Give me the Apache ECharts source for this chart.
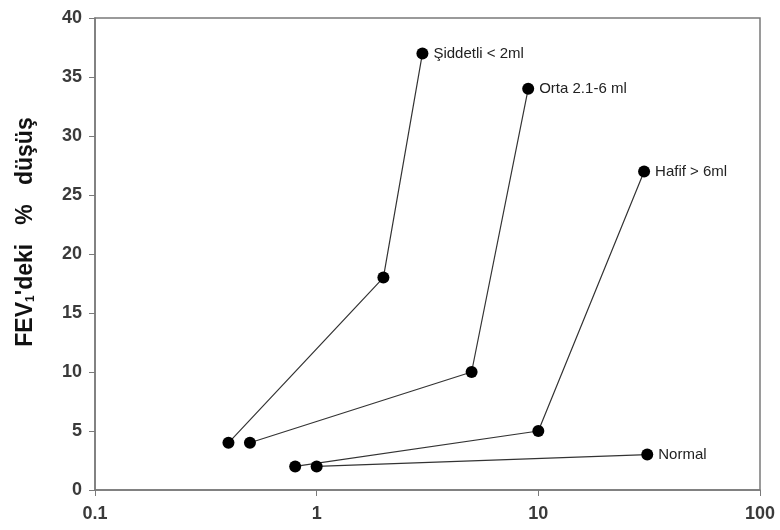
<!DOCTYPE html>
<html>
<head>
<meta charset="utf-8">
<script src="https://cdn.jsdelivr.net/npm/echarts@6/dist/echarts.min.js"></script>
<style>
  html, body { margin: 0; padding: 0; background: #fff; }
  #chart { width: 780px; height: 530px; }
</style>
</head>
<body>
<div id="chart"></div>
<script>
// reading by reading: [dose ml (log), % fall in FEV1]
const seriesNames = ['Şiddetli < 2ml', 'Orta 2.1-6 ml', 'Hafif > 6ml', 'Normal']
const siddetliPts = [[0.4, 4], [2, 18], [3, 37]]
const ortaPts = [[0.5, 4], [5, 10], [9, 34]]
const hafifPts = [[0.8, 2], [10, 5], [30, 27]]
const normalPts = [[1, 2], [31, 3]]
const yTicks = [0, 5, 10, 15, 20, 25, 30, 35, 40]
const xTicks = [0.1, 1, 10, 100]

const chart = echarts.init(document.getElementById('chart'))

const axisColor = '#7a7a7a'
const labelColor = '#3a3a3a'
const font = 'Liberation Sans, Arial, sans-serif'

function makeSeries(name, pts) {
  return {
    name: name,
    type: 'line',
    data: pts.map((p, i) => ({
      value: p,
      label: i === pts.length - 1 ? {
        show: true,
        position: 'right',
        distance: 5,
        formatter: name,
        color: '#222',
        fontSize: 15,
        fontFamily: font
      } : { show: false }
    })),
    symbol: 'circle',
    symbolSize: 12,
    itemStyle: { color: '#000' },
    lineStyle: { color: '#333', width: 1.2 },
    animation: false
  }
}

const option = {
  backgroundColor: '#fff',
  grid: {
    left: 95,
    right: 20,
    top: 18,
    bottom: 40,
    show: true,
    borderColor: axisColor,
    borderWidth: 1.5
  },
  xAxis: {
    type: 'log',
    logBase: 10,
    min: xTicks[0],
    max: xTicks[xTicks.length - 1],
    axisLine: { show: true, lineStyle: { color: axisColor, width: 1.5 } },
    axisTick: { show: true, length: 6, lineStyle: { color: axisColor } },
    splitLine: { show: false },
    minorTick: { show: false },
    axisLabel: {
      color: labelColor,
      fontSize: 18,
      fontWeight: 'bold',
      fontFamily: font,
      margin: 15,
      formatter: v => String(+v.toPrecision(3))
    }
  },
  yAxis: {
    type: 'value',
    min: yTicks[0],
    max: yTicks[yTicks.length - 1],
    interval: 5,
    name: '{a|FEV}{s|1}{a|\'deki   %   düşüş}',
    nameLocation: 'middle',
    nameGap: 58,
    nameRotate: 90,
    nameTextStyle: {
      padding: [0, 0, 0, 44],
      rich: {
        a: {
          fontSize: 23,
          fontWeight: 'bold',
          color: '#111',
          fontFamily: font
        },
        s: {
          fontSize: 12,
          fontWeight: 'bold',
          color: '#111',
          fontFamily: font,
          verticalAlign: 'bottom',
          padding: [9, 0, 0, 0]
        }
      }
    },
    axisLine: { show: true, lineStyle: { color: axisColor, width: 1.5 } },
    axisTick: { show: true, length: 6, lineStyle: { color: axisColor } },
    splitLine: { show: false },
    axisLabel: {
      color: labelColor,
      fontSize: 18,
      fontWeight: 'bold',
      fontFamily: font,
      margin: 13
    }
  },
  series: [
    makeSeries(seriesNames[0], siddetliPts),
    makeSeries(seriesNames[1], ortaPts),
    makeSeries(seriesNames[2], hafifPts),
    makeSeries(seriesNames[3], normalPts)
  ]
}

chart.setOption(option)
</script>
</body>
</html>
